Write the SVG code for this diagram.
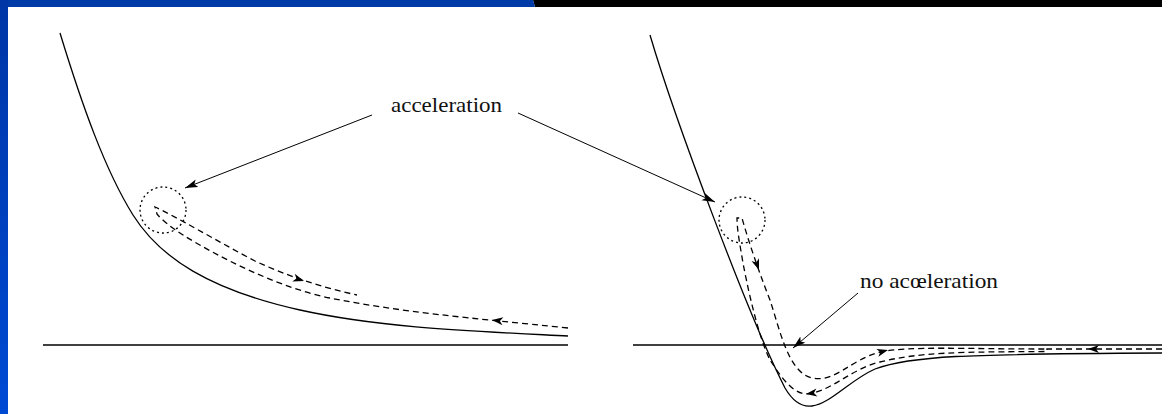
<svg xmlns="http://www.w3.org/2000/svg" xmlns:xlink="http://www.w3.org/1999/xlink" width="1162" height="414" viewBox="0 0 1162 414">
<style>
.solid{fill:none;stroke:#000;stroke-width:1.3}
.base{fill:none;stroke:#000;stroke-width:1.5}
.dash{fill:none;stroke:#000;stroke-width:1.3;stroke-dasharray:6 4}
.dot{fill:none;stroke:#000;stroke-width:1.3;stroke-dasharray:2 3}
.lead{fill:none;stroke:#000;stroke-width:1}
.lbl{font-family:"Liberation Serif","Times New Roman",serif;font-size:21px;fill:#111}
</style>
<defs>
<linearGradient id="lb" x1="0" y1="0" x2="0" y2="1">
<stop offset="0" stop-color="#0036A6"/>
<stop offset="1" stop-color="#004AD4"/>
</linearGradient>
<marker id="arr" markerUnits="userSpaceOnUse" markerWidth="14" markerHeight="10" refX="13" refY="4" orient="auto">
<path d="M0,0 L13,4 L0,8 L3,4 Z" fill="#000"/>
</marker>
<path id="ah" d="M0,0 L-11,-4 L-8,0 L-11,4 Z" fill="#000"/>
</defs>
<rect x="0" y="0" width="1162" height="414" fill="#fff"/>
<g id="frame">
<polygon points="533,0 1162,0 1162,7 535,7" fill="#000"/>
<polygon points="0,0 533,0 535,7 0,7" fill="#003BA8"/>
<rect x="0" y="0" width="8" height="414" fill="url(#lb)"/>
</g>
<g id="left-plot">
<path class="base" d="M43,345 H568"/>
<path class="solid" d="M60,33 C82,105 105,170 133,215 C160,258 210,290 300,310 C380,327.8 470,331 568,336"/>
<circle class="dot" cx="163" cy="210" r="23"/>
<path class="dash" d="M568,328 C470,318 400,312 330,298 C280,288 220,258 183,235 C172,228 162,220 157,214 L155,207 C175,216 215,240 255,261 C285,275 320,287 357,295"/>
<use xlink:href="#ah" transform="translate(304,281) rotate(18)"/>
<use xlink:href="#ah" transform="translate(492,320) rotate(187)"/>
</g>
<g id="right-plot">
<path class="base" d="M633,345 H1162"/>
<path class="solid" d="M650,35 C675,120 750,320 785,388 C795,405 805,407 812,406 C830,404 850,380 875,369 C910,356 960,354 1162,353"/>
<circle class="dot" cx="742" cy="220" r="23"/>
<path class="dash" d="M1162,349 L1047,349 L1047,351.5 C960,352 920,352 880,362 C850,369 830,393 805,394 C790,392 778,372 770,360 C760,340 750,300 743,263 C740,245 737,230 737,218 L742,218 C748,240 760,275 770,300 C780,330 788,372 812,378 C835,383 850,360 880,352 C910,346 960,349 1047,349"/>
<use xlink:href="#ah" transform="translate(759,270) rotate(70)"/>
<use xlink:href="#ah" transform="translate(806,394) rotate(172)"/>
<use xlink:href="#ah" transform="translate(888,350) rotate(-15)"/>
<use xlink:href="#ah" transform="translate(1088,349) rotate(180)"/>
</g>
<g id="label-acceleration">
<text class="lbl" x="391" y="112" textLength="111" lengthAdjust="spacingAndGlyphs">acceleration</text>
</g>
<g id="label-no-acceleration">
<text class="lbl" x="860" y="288" textLength="138" lengthAdjust="spacingAndGlyphs">no acœleration</text>
</g>
<g id="connectors">
<path class="lead" d="M372,115 L185,188" marker-end="url(#arr)"/>
<path class="lead" d="M518,113 L715,202" marker-end="url(#arr)"/>
<path class="lead" d="M858,293 L793,348" marker-end="url(#arr)"/>
</g>
</svg>
